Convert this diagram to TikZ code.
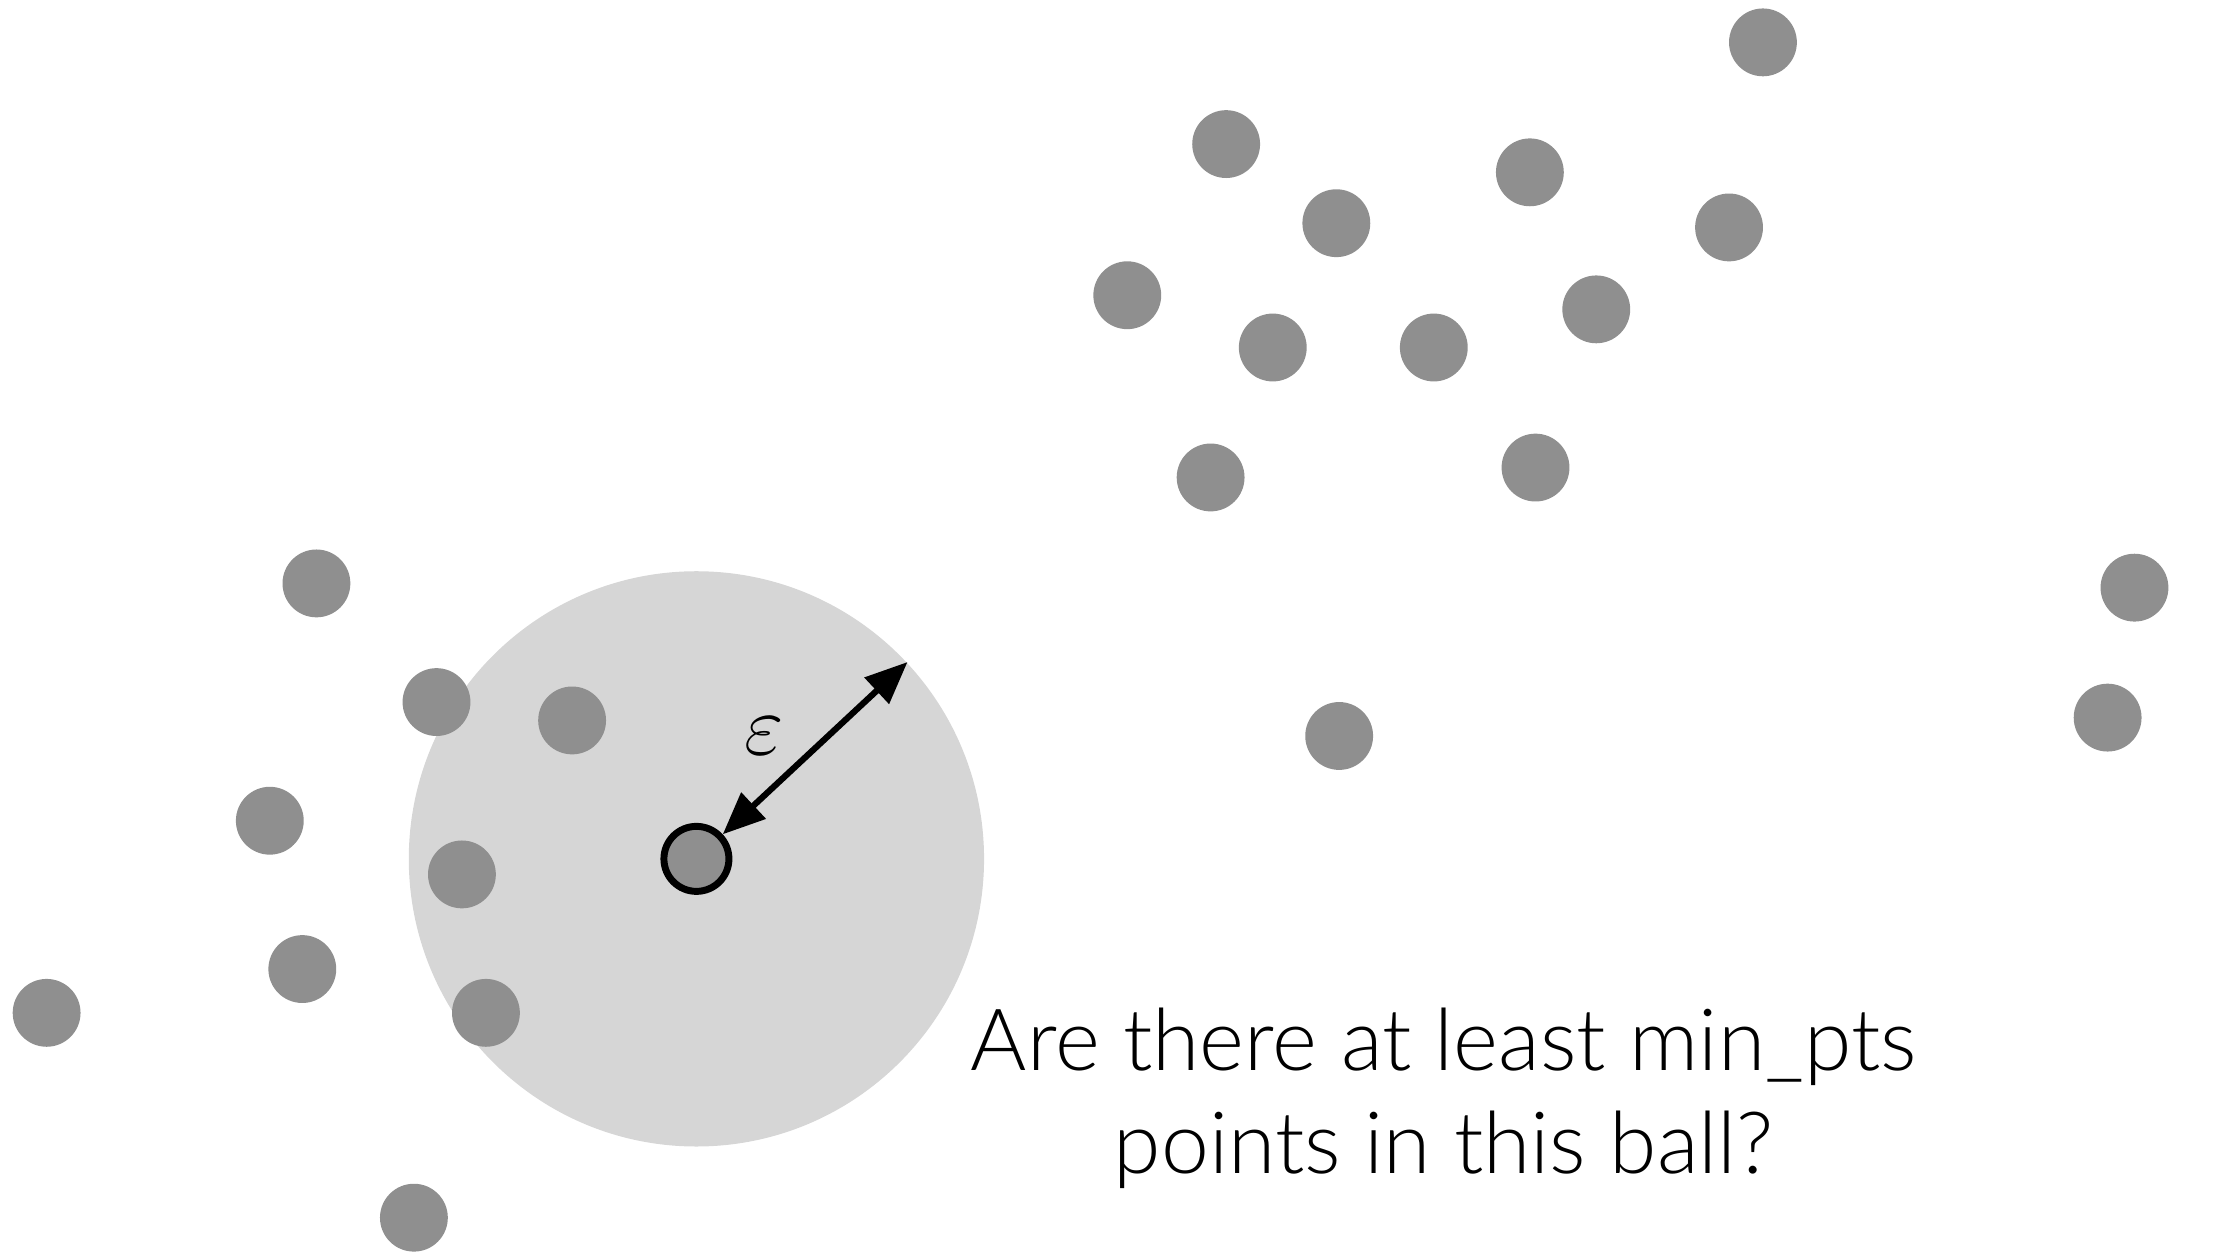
\documentclass[tikz,border=0pt]{standalone}
\usepackage{amsmath,amssymb}
\usepackage{fontspec}
\setmainfont{Lato}[UprightFont={* Light}]
\usepackage{xcolor}
\usepackage{tikz}
\usetikzlibrary{arrows.meta}

\definecolor{dotgray}{RGB}{143,143,143}
\definecolor{ballgray}{RGB}{214,214,214}

\tikzset{
  dot/.style={circle, fill=dotgray, inner sep=0pt, minimum size=4.8mm},
  corept/.style={circle, fill=dotgray, draw=black, line width=1.4pt, inner sep=0pt, minimum size=4.6mm},
  epsball/.style={circle, fill=ballgray, inner sep=0pt, minimum size=40.7mm},
  qtext/.style={font=\fontsize{17.3}{21}\selectfont, anchor=base, inner sep=0pt}
}

\begin{document}
\begin{tikzpicture}[x=0.01cm, y=-0.01cm]
  \useasboundingbox (0,0) rectangle (1568,888);
  \node[epsball] (ball) at (493,608) {};
  \node[dot] (a1) at (1248,30) {};
  \node[dot] (a2) at (868,102) {};
  \node[dot] (a3) at (1083,122) {};
  \node[dot] (a4) at (946,158) {};
  \node[dot] (a5) at (1224,161) {};
  \node[dot] (a6) at (798,209) {};
  \node[dot] (a7) at (901,246) {};
  \node[dot] (a8) at (1015,246) {};
  \node[dot] (a9) at (1130,219) {};
  \node[dot] (a10) at (857,338) {};
  \node[dot] (a11) at (1087,331) {};
  \node[dot] (r1) at (1511,416) {};
  \node[dot] (r2) at (1492,508) {};
  \node[dot] (m1) at (948,521) {};
  \node[dot] (b1) at (224,413) {};
  \node[dot] (b2) at (309,497) {};
  \node[dot] (b3) at (405,510) {};
  \node[dot] (b4) at (191,581) {};
  \node[dot] (b5) at (327,619) {};
  \node[dot] (b6) at (214,686) {};
  \node[dot] (b7) at (33,717) {};
  \node[dot] (b8) at (344,717) {};
  \node[dot] (b9) at (293,862) {};
  \node[corept] (core) at (493,608) {};
  \draw[line width=1.25pt, {Triangle[length=8.5pt,width=7pt]}-{Triangle[length=8.5pt,width=7pt]}] (core) -- (ball.43);
  \node (eps) at (541,521) {\fontsize{17}{20}\selectfont$\varepsilon$};
  \node[qtext] (q1) at (1022,758) {Are there at least min\_pts};
  \node[qtext] (q2) at (1022,831) {points in this ball?};
\end{tikzpicture}
\end{document}
